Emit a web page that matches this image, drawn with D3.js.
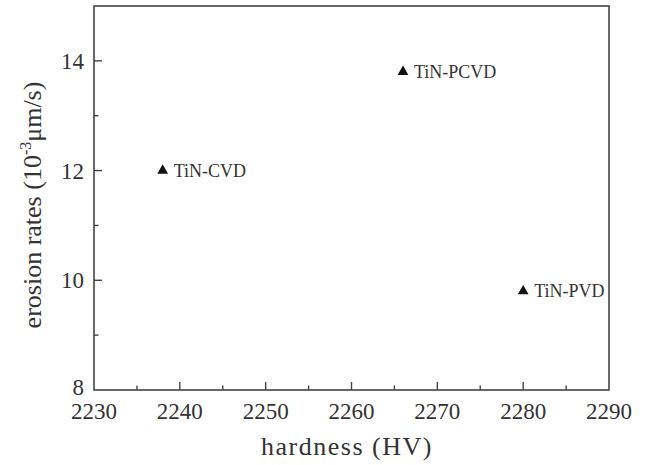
<!DOCTYPE html>
<html><head><meta charset="utf-8">
<script src="https://cdn.jsdelivr.net/npm/d3@7"></script>
<style>body{margin:0;background:#fff}svg{display:block}
text{font-family:"Liberation Serif","Times New Roman","DejaVu Serif",serif}</style>
</head><body>
<svg id="c" width="649" height="465"></svg>
<script>
const names = ["TiN-CVD", "TiN-PCVD", "TiN-PVD"];
const hardness = [2238, 2266, 2280];
const erosion = [12.0, 13.8, 9.8];
const xTicks = [2230, 2240, 2250, 2260, 2270, 2280, 2290];
const yTicks = [8, 10, 12, 14];

const svg = d3.select("#c");
const L = 94, R = 609, T = 6, B = 390;
const x = d3.scaleLinear().domain([2230, 2290]).range([L, R]);
const y = d3.scaleLinear().domain([8, 15]).range([B, T]);
const col = "#333";

// frame
svg.append("rect").attr("x", L).attr("y", T).attr("width", R - L).attr("height", B - T)
  .attr("fill", "none").attr("stroke", "#444").attr("stroke-width", 1.6);

// x ticks (inward)
const xMinor = d3.range(2235, 2290, 10);
svg.selectAll(".xt").data(xTicks.slice(1, -1)).join("line")
  .attr("x1", d => x(d)).attr("x2", d => x(d)).attr("y1", B).attr("y2", B - 8)
  .attr("stroke", "#444").attr("stroke-width", 1.4);
svg.selectAll(".xm").data(xMinor).join("line")
  .attr("x1", d => x(d)).attr("x2", d => x(d)).attr("y1", B).attr("y2", B - 4.5)
  .attr("stroke", "#444").attr("stroke-width", 1.4);
svg.selectAll(".xl").data(xTicks).join("text")
  .attr("x", d => x(d)).attr("y", 419).attr("text-anchor", "middle")
  .attr("font-size", 23).attr("fill", col).text(d => d);

// y ticks
const yMinor = [9, 11, 13];
svg.selectAll(".yt").data(yTicks.slice(1)).join("line")
  .attr("x1", L).attr("x2", L + 8).attr("y1", d => y(d)).attr("y2", d => y(d))
  .attr("stroke", "#444").attr("stroke-width", 1.4);
svg.selectAll(".ym").data(yMinor).join("line")
  .attr("x1", L).attr("x2", L + 4.5).attr("y1", d => y(d)).attr("y2", d => y(d))
  .attr("stroke", "#444").attr("stroke-width", 1.4);
svg.selectAll(".yl").data(yTicks).join("text")
  .attr("x", 84).attr("y", d => d === 8 ? y(d) + 5 : y(d) + 8).attr("text-anchor", "end")
  .attr("font-size", 23).attr("fill", col).text(d => d);

// axis titles
svg.append("text").attr("x", 347).attr("y", 455).attr("text-anchor", "middle")
  .attr("font-size", 26).attr("letter-spacing", 1.5).attr("fill", col).text("hardness (HV)");
const yt = svg.append("text").attr("transform", "translate(41,205) rotate(-90)")
  .attr("text-anchor", "middle").attr("font-size", 26).attr("fill", col);
yt.append("tspan").text("erosion rates (10");
yt.append("tspan").attr("font-size", 16).attr("dy", -10).text("-3");
yt.append("tspan").attr("dy", 10).text("μm/s)");

// points
const pts = names.map((n, i) => ({n, h: hardness[i], e: erosion[i]}));
svg.selectAll(".pt").data(pts).join("path")
  .attr("d", d3.symbol(d3.symbolTriangle, 50))
  .attr("transform", d => `translate(${x(d.h)},${y(d.e)})`).attr("fill", "#111");
svg.selectAll(".pl").data(pts).join("text")
  .attr("x", d => x(d.h) + 11).attr("y", d => y(d.e) + 6)
  .attr("font-size", 18).attr("fill", col).text(d => d.n);
</script>
</body></html>
